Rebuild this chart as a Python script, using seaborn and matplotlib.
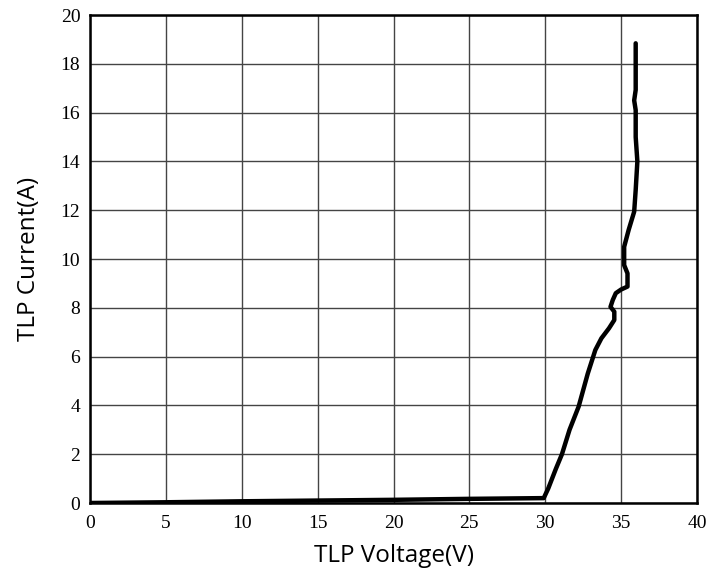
import numpy as np
import pandas as pd
import matplotlib
matplotlib.use("Agg")
import matplotlib.pyplot as plt
import seaborn as sns

# TLP curve
voltage = [0.0, 5.0, 10.0, 15.0, 20.0, 25.0, 29.9, 30.2, 30.7, 31.1, 31.6, 32.2,
           32.8, 33.3, 33.7, 34.2, 34.55, 34.55, 34.3, 34.45, 34.65, 35.0, 35.42,
           35.42, 35.2, 35.2, 35.5, 35.86, 35.96, 36.07, 35.96, 35.96, 35.86,
           35.96, 35.96, 35.96]
current = [0.0, 0.03, 0.07, 0.1, 0.13, 0.17, 0.2, 0.6, 1.4, 2.0, 3.0, 3.95,
           5.3, 6.27, 6.75, 7.16, 7.5, 7.84, 8.04, 8.32, 8.6, 8.75, 8.87,
           9.41, 9.75, 10.5, 11.2, 11.94, 12.83, 14.0, 15.0, 16.1, 16.5,
           16.93, 18.0, 18.84]

x_ticks = list(range(0, 41, 5))
y_ticks = list(range(0, 21, 2))

df = pd.DataFrame({"V": voltage, "I": current})

sns.set_theme(style="white")
fig = plt.figure(figsize=(7.08, 5.75), dpi=100)
ax = fig.add_axes([90 / 708, 1 - 503 / 575, 607 / 708, 488 / 575])

sns.lineplot(data=df, x="V", y="I", sort=False, estimator=None,
             color="black", linewidth=3.2, ax=ax)

ax.set_xlim(0, 40)
ax.set_ylim(0, 20)
ax.set_xticks(x_ticks)
ax.set_yticks(y_ticks)
ax.grid(True, color="#444444", linewidth=1.0)
ax.tick_params(length=0, labelsize=14, labelcolor="black")
ax.tick_params(axis="x", pad=9)
ax.tick_params(axis="y", pad=7)
for lab in ax.get_xticklabels() + ax.get_yticklabels():
    lab.set_family(["Liberation Serif", "DejaVu Serif"])

for sp in ax.spines.values():
    sp.set_color("black")
    sp.set_linewidth(1.8)

ax.set_xlabel("TLP Voltage(V)", fontsize=17.5, family="Open Sans",
              color="black", labelpad=8)
ax.set_ylabel("TLP Current(A)", fontsize=17.5, family="Open Sans",
              color="black", labelpad=14)

fig.savefig("out.png", dpi=100)
